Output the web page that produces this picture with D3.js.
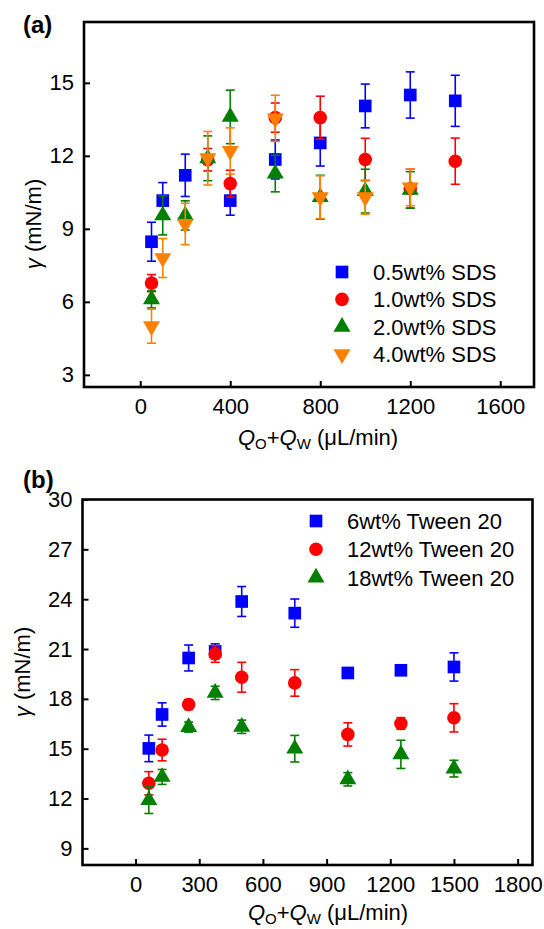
<!DOCTYPE html>
<html>
<head>
<meta charset="utf-8">
<script src="https://cdn.jsdelivr.net/npm/d3@7"></script>
<style>
  body { margin: 0; background: #fff; }
  text { font-family: Arial, "Liberation Sans", sans-serif; fill: #000; }
</style>
</head>
<body>
<script>
// ---- panel (a): SDS ----
var sdsTicksX = [0, 400, 800, 1200, 1600];
var sdsTicksY = [3, 6, 9, 12, 15];

var sds05Flow = [50, 100, 200, 400, 600, 800, 1000, 1200, 1400];
var sds05Gamma = [8.47, 10.16, 11.2, 10.16, 11.85, 12.53, 14.05, 14.5, 14.26];
var sds05Err = [0.8, 0.74, 0.87, 0.6, 0.8, 0.95, 0.9, 0.95, 1.05];

var sds10Flow = [50, 300, 400, 600, 800, 1000, 1200, 1400];
var sds10Gamma = [6.77, 11.84, 10.86, 13.57, 13.57, 11.85, 10.65, 11.78];
var sds10Err = [0.35, 0.46, 0.55, 0.6, 0.88, 0.87, 0.8, 0.95];

var sds20Flow = [50, 100, 200, 300, 400, 600, 800, 1000, 1200];
var sds20Gamma = [6.1, 9.55, 9.55, 11.9, 13.6, 11.27, 10.3, 10.55, 10.6];
var sds20Err = [0.35, 0.8, 0.6, 0.92, 1.1, 0.75, 0.9, 0.9, 0.75];

var sds40Flow = [50, 100, 200, 300, 400, 600, 800, 1000, 1200];
var sds40Gamma = [5.0, 7.8, 9.2, 11.9, 12.2, 13.54, 10.3, 10.3, 10.7];
var sds40Err = [0.7, 0.8, 0.85, 1.1, 0.95, 0.95, 0.88, 0.7, 0.75];

// ---- panel (b): Tween 20 ----
var tweenTicksX = [0, 300, 600, 900, 1200, 1500, 1800];
var tweenTicksY = [9, 12, 15, 18, 21, 24, 27, 30];
var tweenFlow = [62.5, 125, 250, 375, 500, 750, 1000, 1250, 1500];

var tw6Gamma = [15.02, 17.06, 20.46, 20.86, 23.86, 23.16, 19.56, 19.72, 19.92];
var tw6Err = [0.8, 0.7, 0.78, 0.45, 0.9, 0.85, 0.2, 0.2, 0.85];
var tw12Gamma = [12.92, 14.92, 17.66, 20.7, 19.3, 18.96, 15.86, 16.52, 16.86];
var tw12Err = [0.7, 0.65, 0.3, 0.5, 0.9, 0.8, 0.7, 0.35, 0.85];
var tw18Gamma = [11.9, 13.3, 16.3, 18.36, 16.32, 15.0, 13.16, 14.66, 13.8];
var tw18Err = [0.8, 0.45, 0.3, 0.4, 0.4, 0.8, 0.4, 0.85, 0.5];

var blue = "#0000ff", red = "#ff0000", green = "#007f00", orange = "#ff8000";

var svg = d3.select("body").append("svg")
  .attr("width", 544)
  .attr("height", 929);

function rows(xs, ys, es) {
  return xs.map(function(d, i) { return { x: d, y: ys[i], e: es[i] }; });
}

function symbolPath(shape) {
  if (shape == "square") return d3.symbol(d3.symbolSquare, 160)();
  if (shape == "circle") return d3.symbol(d3.symbolCircle, 145)();
  return d3.symbol(d3.symbolTriangle, 125)();
}

function drawPanel(p) {
  var x = d3.scaleLinear().domain(p.xDomain).range([p.left, p.right]);
  var y = d3.scaleLinear().domain(p.yDomain).range([p.bottom, p.top]);
  var g = svg.append("g");

  // axes, ticks pointing inside
  var ax = g.append("g")
    .attr("transform", `translate(0, ${p.bottom})`)
    .call(d3.axisBottom(x).tickValues(p.xTicks).tickFormat(d3.format("d"))
      .tickSizeInner(-6).tickSizeOuter(0).tickPadding(11));
  var ay = g.append("g")
    .attr("transform", `translate(${p.left}, 0)`)
    .call(d3.axisLeft(y).tickValues(p.yTicks).tickFormat(d3.format("d"))
      .tickSizeInner(-6).tickSizeOuter(0).tickPadding(10));
  [ax, ay].forEach(function(a) {
    a.select(".domain").remove();
    a.selectAll("line").attr("stroke", "#000").attr("stroke-width", 2);
    a.selectAll("text").style("font-size", "22px").attr("fill", "#000");
  });

  // series: error bars first, then markers
  p.series.forEach(function(s) {
    var sg = g.append("g");
    var bars = sg.selectAll(".eb").data(s.data).enter().append("g")
      .attr("stroke", s.color).attr("stroke-width", 1.6);
    bars.append("line")
      .attr("x1", d => x(d.x)).attr("x2", d => x(d.x))
      .attr("y1", d => y(d.y - d.e)).attr("y2", d => y(d.y + d.e));
    bars.append("line")
      .attr("x1", d => x(d.x) - 4.5).attr("x2", d => x(d.x) + 4.5)
      .attr("y1", d => y(d.y + d.e)).attr("y2", d => y(d.y + d.e));
    bars.append("line")
      .attr("x1", d => x(d.x) - 4.5).attr("x2", d => x(d.x) + 4.5)
      .attr("y1", d => y(d.y - d.e)).attr("y2", d => y(d.y - d.e));

    sg.selectAll("path").data(s.data).enter().append("path")
      .attr("d", symbolPath(s.shape))
      .attr("fill", s.color)
      .attr("transform", d => `translate(${x(d.x)}, ${y(d.y)})` + (s.flip ? " rotate(180)" : ""));
  });

  // frame
  g.append("rect")
    .attr("x", p.left).attr("y", p.top)
    .attr("width", p.right - p.left).attr("height", p.bottom - p.top)
    .attr("fill", "none").attr("stroke", "#000").attr("stroke-width", 2.6);

  // legend
  p.series.forEach(function(s, i) {
    var ly = p.legendY + i * p.legendStep;
    g.append("path")
      .attr("d", symbolPath(s.shape))
      .attr("fill", s.color)
      .attr("transform", `translate(${p.legendX}, ${ly})` + (s.flip ? " rotate(180)" : ""));
    g.append("text")
      .attr("x", p.legendX + 31).attr("y", ly)
      .attr("dy", "0.36em")
      .style("font-size", "22px")
      .text(s.name);
  });

  // panel letter
  g.append("text")
    .attr("x", 23).attr("y", p.letterY)
    .style("font-size", "24px").style("font-weight", "bold")
    .text(p.letter);

  // y label
  var yl = g.append("text")
    .attr("transform", `translate(${p.yLabelX}, ${p.yLabelY}) rotate(-90)`)
    .attr("text-anchor", "middle")
    .style("font-size", "22px");
  yl.append("tspan").style("font-style", "italic").text("γ");
  yl.append("tspan").text(" (mN/m)");

  // x label
  var xl = g.append("text")
    .attr("x", p.xLabelX).attr("y", p.xLabelY)
    .attr("text-anchor", "middle")
    .style("font-size", "22px");
  xl.append("tspan").style("font-style", "italic").text("Q");
  xl.append("tspan").attr("dy", 4).style("font-size", "15px").text("O");
  xl.append("tspan").attr("dy", -4).text("+");
  xl.append("tspan").style("font-style", "italic").text("Q");
  xl.append("tspan").attr("dy", 4).style("font-size", "15px").text("W");
  xl.append("tspan").attr("dy", -4).text(" (μL/min)");
}

drawPanel({
  letter: "(a)", letterY: 33,
  left: 84, right: 534, top: 22, bottom: 387,
  xDomain: [-250, 1750], yDomain: [2.5, 17.5],
  xTicks: sdsTicksX, yTicks: sdsTicksY,
  legendX: 342, legendY: 272, legendStep: 27.4,
  yLabelX: 41, yLabelY: 224,
  xLabelX: 318, xLabelY: 445,
  series: [
    { name: "0.5wt% SDS", color: blue, shape: "square", data: rows(sds05Flow, sds05Gamma, sds05Err) },
    { name: "1.0wt% SDS", color: red, shape: "circle", data: rows(sds10Flow, sds10Gamma, sds10Err) },
    { name: "2.0wt% SDS", color: green, shape: "triangle", data: rows(sds20Flow, sds20Gamma, sds20Err) },
    { name: "4.0wt% SDS", color: orange, shape: "triangle", flip: true, data: rows(sds40Flow, sds40Gamma, sds40Err) }
  ]
});

drawPanel({
  letter: "(b)", letterY: 488,
  left: 82.5, right: 532.5, top: 499.5, bottom: 865,
  xDomain: [-250, 1870], yDomain: [8, 30],
  xTicks: tweenTicksX, yTicks: tweenTicksY,
  legendX: 316, legendY: 521, legendStep: 28.3,
  yLabelX: 30, yLabelY: 672,
  xLabelX: 328, xLabelY: 920,
  series: [
    { name: "6wt% Tween 20", color: blue, shape: "square", data: rows(tweenFlow, tw6Gamma, tw6Err) },
    { name: "12wt% Tween 20", color: red, shape: "circle", data: rows(tweenFlow, tw12Gamma, tw12Err) },
    { name: "18wt% Tween 20", color: green, shape: "triangle", data: rows(tweenFlow, tw18Gamma, tw18Err) }
  ]
});
</script>
</body>
</html>
